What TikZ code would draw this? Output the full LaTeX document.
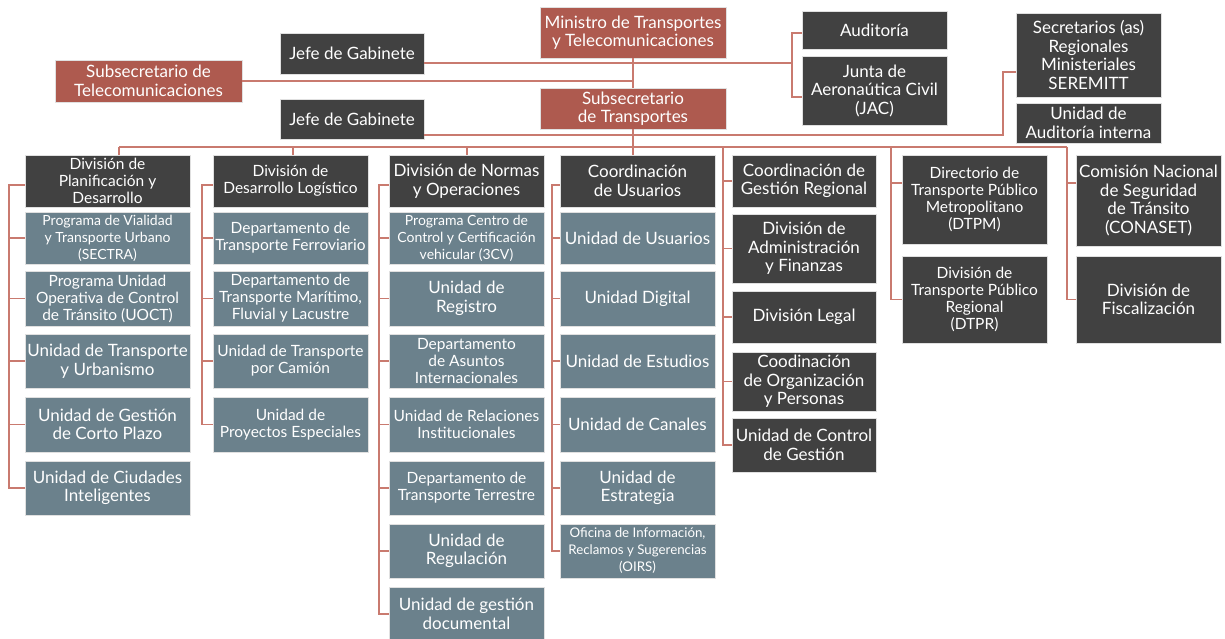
\documentclass[tikz,border=0pt]{standalone}
\usepackage{fontspec}
\setmainfont{Lato}
\usetikzlibrary{calc}
\definecolor{rojo}{HTML}{AE5A4F}
\definecolor{gris}{HTML}{414141}
\definecolor{azul}{HTML}{6B818C}
\definecolor{linea}{HTML}{C97A6F}

\begin{document}
\begin{tikzpicture}[x=1pt,y=-1pt,
  caja/.style={text=white,inner sep=0pt,align=center,draw=black!12,line width=0.5pt},
  ofirojo/.style={caja,fill=rojo},
  ofigris/.style={caja,fill=gris},
  ofiazul/.style={caja,fill=azul},
  ancho/.style={minimum width=#1pt},
  alto/.style={minimum height=#1pt},
  fbig/.style={font=\fontsize{17}{18.5}\selectfont},
  fmid/.style={font=\fontsize{15.5}{17}\selectfont},
  fsml/.style={font=\fontsize{14}{17}\selectfont},
  fmin/.style={font=\fontsize{13.3}{17}\selectfont},
  conn/.style={draw=linea,line width=1.4pt}]
\useasboundingbox (0,0) rectangle (1225,639);

% nivel superior
\node[ofirojo,fbig,ancho=186,alto=51] (mtt) at (633,32.5) {Ministro de Transportes\\y Telecomunicaciones};
\node[ofigris,fbig,ancho=144,alto=41] (jefeA) at (352,53.5) {Jefe de Gabinete};
\node[ofirojo,fbig,ancho=187,alto=42] (subtel) at (148.5,81) {Subsecretario de\\Telecomunicaciones};
\node[ofirojo,fbig,ancho=186,alto=41] (subtra) at (633,108.5) {Subsecretario\\de Transportes};
\node[ofigris,fbig,ancho=144,alto=40] (jefeB) at (352,119) {Jefe de Gabinete};
\node[ofigris,fbig,ancho=145,alto=38] (audit) at (874.5,30) {Auditoría};
\node[ofigris,fbig,ancho=145,alto=69] (jac) at (874.5,90.5) {Junta de\\Aeronaútica Civil\\(JAC)};
\node[ofigris,fbig,ancho=145,alto=84] (seremi) at (1088.5,55) {Secretarios (as)\\Regionales\\Ministeriales\\SEREMITT};
\node[ofigris,fbig,ancho=145,alto=40] (uai) at (1088.5,123) {Unidad de\\Auditoría interna};

% columna 1
\node[ofigris,fmid,ancho=165,alto=52] (c1h) at (107.5,181) {División de\\Planificación y\\Desarrollo};
\node[ofiazul,fsml,ancho=165,alto=52] (c1a) at (107.5,238) {Programa de Vialidad\\y Transporte Urbano\\(SECTRA)};
\node[ofiazul,fmid,ancho=165,alto=55] (c1b) at (107.5,298.5) {Programa Unidad\\Operativa de Control\\de Tránsito (UOCT)};
\node[ofiazul,fbig,ancho=165,alto=54] (c1c) at (107.5,361) {Unidad de Transporte\\y Urbanismo};
\node[ofiazul,fbig,ancho=165,alto=55] (c1d) at (107.5,424.5) {Unidad de Gestión\\de Corto Plazo};
\node[ofiazul,fbig,ancho=165,alto=54] (c1e) at (107.5,488) {Unidad de Ciudades\\Inteligentes};

% columna 2
\node[ofigris,fmid,ancho=155,alto=52] (c2h) at (290.5,181) {División de\\Desarrollo Logístico};
\node[ofiazul,fmid,ancho=155,alto=52] (c2a) at (290.5,238) {Departamento de\\Transporte Ferroviario};
\node[ofiazul,fmid,ancho=155,alto=55] (c2b) at (290.5,298.5) {Departamento de\\Transporte Marítimo,\\Fluvial y Lacustre};
\node[ofiazul,fmid,ancho=155,alto=54] (c2c) at (290.5,361) {Unidad de Transporte\\por Camión};
\node[ofiazul,fmid,ancho=155,alto=55] (c2d) at (290.5,424.5) {Unidad de\\Proyectos Especiales};

% columna 3
\node[ofigris,fbig,ancho=155,alto=52] (c3h) at (466.5,181) {División de Normas\\y Operaciones};
\node[ofiazul,fsml,ancho=155,alto=52] (c3a) at (466.5,238) {Programa Centro de\\Control y Certificación\\vehicular (3CV)};
\node[ofiazul,fbig,ancho=155,alto=55] (c3b) at (466.5,298.5) {Unidad de\\Registro};
\node[ofiazul,fmid,ancho=155,alto=54] (c3c) at (466.5,361) {Departamento\\de Asuntos\\Internacionales};
\node[ofiazul,fmid,ancho=155,alto=55] (c3d) at (466.5,424.5) {Unidad de Relaciones\\Institucionales};
\node[ofiazul,fmid,ancho=155,alto=54] (c3e) at (466.5,488) {Departamento de\\Transporte Terrestre};
\node[ofiazul,fbig,ancho=155,alto=54] (c3f) at (466.5,551) {Unidad de\\Regulación};
\node[ofiazul,fbig,ancho=155,alto=54] (c3g) at (466.5,614) {Unidad de gestión\\documental};

% columna 4
\node[ofigris,fbig,ancho=155,alto=52] (c4h) at (637.5,181) {Coordinación\\de Usuarios};
\node[ofiazul,fbig,ancho=155,alto=52] (c4a) at (637.5,238) {Unidad de Usuarios};
\node[ofiazul,fbig,ancho=155,alto=55] (c4b) at (637.5,298.5) {Unidad Digital};
\node[ofiazul,fbig,ancho=155,alto=54] (c4c) at (637.5,361) {Unidad de Estudios};
\node[ofiazul,fbig,ancho=155,alto=55] (c4d) at (637.5,424.5) {Unidad de Canales};
\node[ofiazul,fbig,ancho=155,alto=54] (c4e) at (637.5,488) {Unidad de\\Estrategia};
\node[ofiazul,fmin,ancho=155,alto=54] (c4f) at (637.5,551) {Oficina de Información,\\Reclamos y Sugerencias\\(OIRS)};

% columna 5
\node[ofigris,fbig,ancho=144,alto=52] (c5h) at (804,181) {Coordinación de\\Gestión Regional};
\node[ofigris,fbig,ancho=144,alto=69] (c5a) at (804,248.5) {División de\\Administración\\y Finanzas};
\node[ofigris,fbig,ancho=144,alto=52] (c5b) at (804,317) {División Legal};
\node[ofigris,fbig,ancho=144,alto=59] (c5c) at (804,381.5) {Coodinación\\de Organización\\y Personas};
\node[ofigris,fbig,ancho=144,alto=54] (c5d) at (804,445) {Unidad de Control\\de Gestión};

% columnas 6 y 7
\node[ofigris,fmid,ancho=145,alto=89] (c6h) at (974.5,199.5) {Directorio de\\Transporte Público\\Metropolitano\\(DTPM)};
\node[ofigris,fmid,ancho=145,alto=87] (c6a) at (974.5,299.5) {División de\\Transporte Público\\Regional\\(DTPR)};
\node[ofigris,fbig,ancho=145,alto=91] (c7h) at (1148.5,200.5) {Comisión Nacional\\de Seguridad\\de Tránsito\\(CONASET)};
\node[ofigris,fbig,ancho=145,alto=87] (c7a) at (1148.5,299.5) {División de\\Fiscalización};

% puntos de quiebre
\coordinate (a0) at (792,33);
\coordinate (a1) at (792,63);
\coordinate (a2) at (792,97);
\coordinate (s0) at (1003,72);
\coordinate (s1) at (1003,135);
\coordinate (t1) at (119,147);
\coordinate (t2) at (293,147);
\coordinate (t3) at (467,147);
\coordinate (t4) at (633,147);
\coordinate (t5) at (723,147);
\coordinate (t6) at (891,147);
\coordinate (t7) at (1067,147);
\coordinate (b1) at (9,185);
\coordinate (b2) at (202,185);
\coordinate (b3) at (379,185);
\coordinate (b4) at (552,185);
\coordinate (b6) at (891,183);
\coordinate (b7) at (1067,183);

% conectores superiores
\draw[conn] (mtt.south) -- (subtra.north);
\draw[conn] (jefeA.east |- a1) -- (a1);
\draw[conn] (audit.west |- a0) -- (a0) -- (a2) -- (jac.west |- a2);
\draw[conn] (subtel.east) -- (subtel.east -| mtt.south);
\draw[conn] (jefeB.east |- s1) -- (s1) -- (s0) -- (seremi.west |- s0);
\draw[conn] (subtra.south) -- (t4);
\draw[conn] (t1) -- (t7);
\foreach \t/\h in {t1/c1h,t2/c2h,t3/c3h,t4/c4h}
  \draw[conn] (\t) -- (\t |- \h.north);

% conectores de columnas
\draw[conn] (c1h.west |- b1) -- (b1) |- (c1e.west);
\foreach \n in {c1a,c1b,c1c,c1d} \draw[conn] (\n.west) -- (\n.west -| b1);
\draw[conn] (c2h.west |- b2) -- (b2) |- (c2d.west);
\foreach \n in {c2a,c2b,c2c} \draw[conn] (\n.west) -- (\n.west -| b2);
\draw[conn] (c3h.west |- b3) -- (b3) |- (c3g.west);
\foreach \n in {c3a,c3b,c3c,c3d,c3e,c3f} \draw[conn] (\n.west) -- (\n.west -| b3);
\draw[conn] (c4h.west |- b4) -- (b4) |- (c4f.west);
\foreach \n in {c4a,c4b,c4c,c4d,c4e} \draw[conn] (\n.west) -- (\n.west -| b4);
\draw[conn] (t5) |- (c5d.west);
\foreach \n in {c5h,c5a,c5b,c5c} \draw[conn] (\n.west) -- (\n.west -| t5);
\draw[conn] (t6) |- (c6a.west);
\draw[conn] (c6h.west |- b6) -- (b6);
\draw[conn] (t7) |- (c7a.west);
\draw[conn] (c7h.west |- b7) -- (b7);
\end{tikzpicture}
\end{document}
